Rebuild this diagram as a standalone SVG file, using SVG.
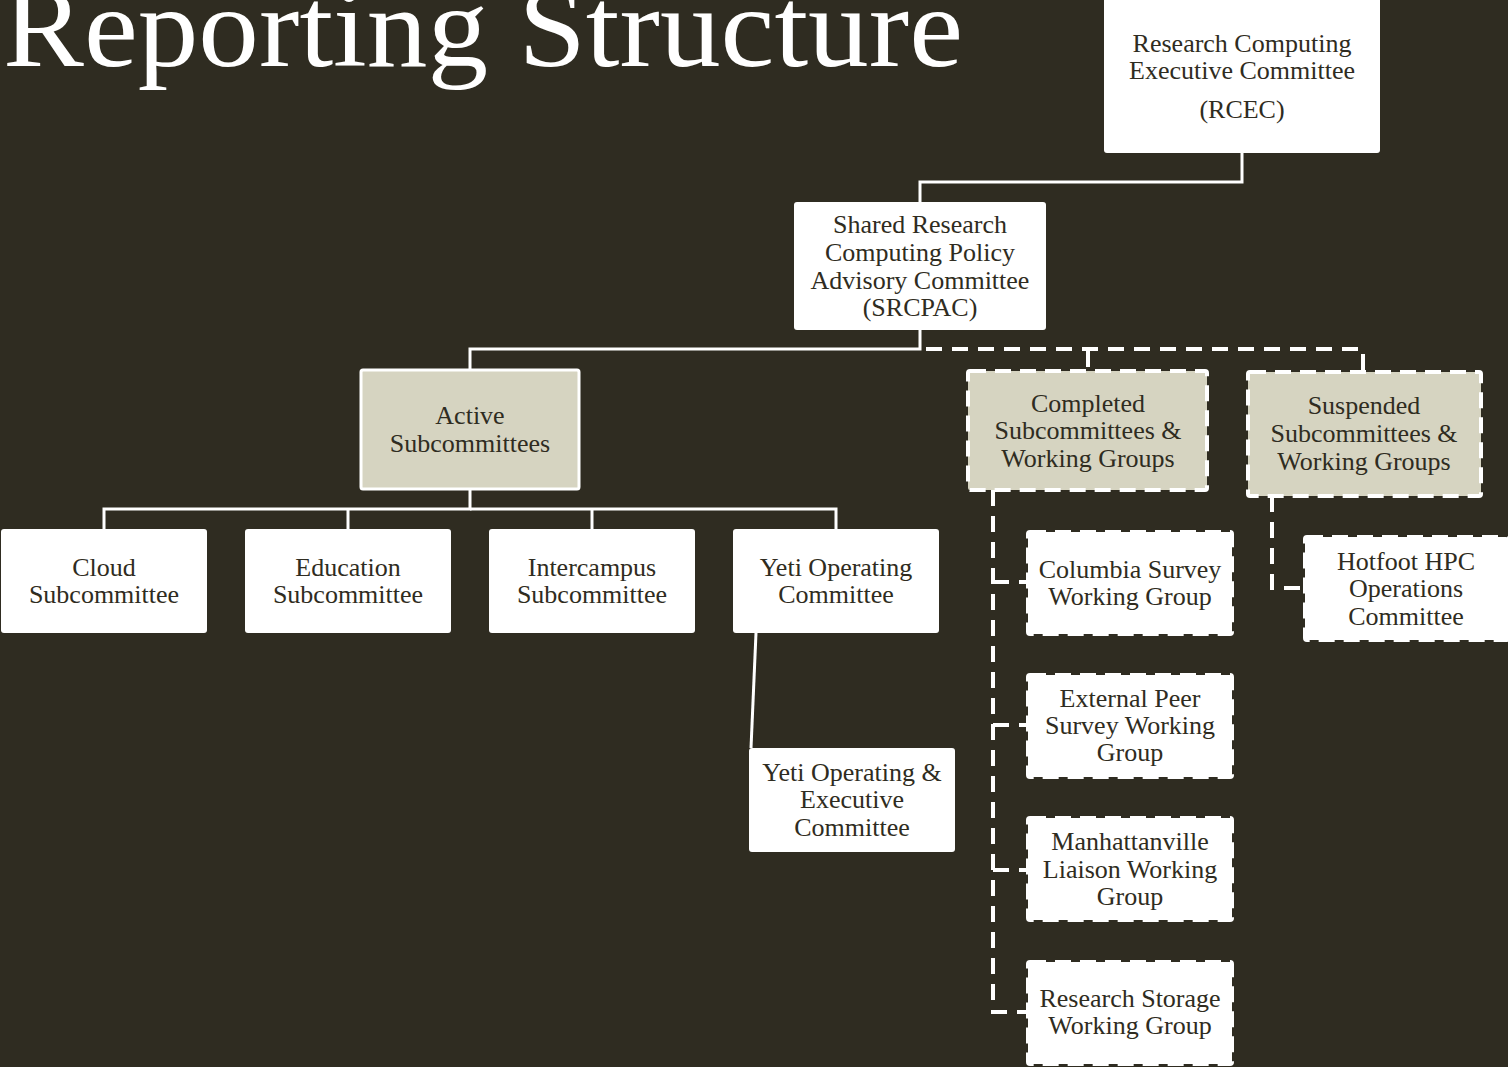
<svg xmlns="http://www.w3.org/2000/svg" width="1508" height="1067" viewBox="0 0 1508 1067">
<style>
.bg{fill:#2f2c21}
.box{fill:#ffffff;stroke:none}
.shade{fill:#d6d4c1;stroke:#ffffff;stroke-width:3}
.shadeD{fill:#d6d4c1;stroke:#ffffff;stroke-width:4;stroke-dasharray:16 9}
.boxD{fill:#ffffff;stroke:#ffffff;stroke-width:4;stroke-dasharray:16 9}
.t{font-family:"Liberation Serif","Times New Roman",serif;font-size:26px;fill:#2f2c21;text-anchor:middle}
.title{font-family:"Liberation Serif","Times New Roman",serif;font-size:114px;fill:#ffffff}
.solid{fill:none;stroke:#ffffff;stroke-width:3}
.dash{fill:none;stroke:#ffffff;stroke-width:4;stroke-dasharray:16 10}
</style>
<rect class="bg" x="0" y="0" width="1508" height="1067"/>
<text class="title" x="3" y="66" textLength="960" lengthAdjust="spacingAndGlyphs">Reporting Structure</text>

<g id="connectors">
<path class="solid" d="M1242,153 V182 H920 V202"/>
<path class="solid" d="M920,330 V349 H470 V370"/>
<path class="dash" d="M926,349 H1363 V372"/>
<path class="dash" d="M1088,351 V370"/>
<path class="solid" d="M470,489 V509 H104 V529"/>
<path class="solid" d="M348,509 V529"/>
<path class="solid" d="M470,509 H836 V529"/>
<path class="solid" d="M592,509 V529"/>
<path class="solid" d="M756,633 L751,748"/>
<path class="dash" d="M993,490 V1012 H1028"/>
<path class="dash" d="M993,582 H1028"/>
<path class="dash" d="M993,725 H1028"/>
<path class="dash" d="M993,870 H1028"/>
<path class="dash" d="M1272,496 V588 H1305"/>
</g>

<g id="rcec">
<rect class="box" x="1104" y="-4" width="276" height="157" rx="3"/>
<text class="t" x="1242" y="52">Research Computing</text>
<text class="t" x="1242" y="79">Executive Committee</text>
<text class="t" x="1242" y="118">(RCEC)</text>
</g>

<g id="srcpac">
<rect class="box" x="794" y="202" width="252" height="128" rx="3"/>
<text class="t" x="920" y="233">Shared Research</text>
<text class="t" x="920" y="261">Computing Policy</text>
<text class="t" x="920" y="289">Advisory Committee</text>
<text class="t" x="920" y="316">(SRCPAC)</text>
</g>

<g id="active">
<rect class="shade" x="361" y="370" width="218" height="119" rx="2"/>
<text class="t" x="470" y="424">Active</text>
<text class="t" x="470" y="452">Subcommittees</text>
</g>

<g id="completed">
<rect class="shadeD" x="968" y="371" width="239" height="119" rx="2"/>
<text class="t" x="1088" y="412">Completed</text>
<text class="t" x="1088" y="439">Subcommittees &amp;</text>
<text class="t" x="1088" y="467">Working Groups</text>
</g>

<g id="suspended">
<rect class="shadeD" x="1248" y="372" width="233" height="124" rx="2"/>
<text class="t" x="1364" y="414">Suspended</text>
<text class="t" x="1364" y="442">Subcommittees &amp;</text>
<text class="t" x="1364" y="470">Working Groups</text>
</g>

<g id="cloud">
<rect class="box" x="1" y="529" width="206" height="104" rx="3"/>
<text class="t" x="104" y="576">Cloud</text>
<text class="t" x="104" y="603">Subcommittee</text>
</g>

<g id="education">
<rect class="box" x="245" y="529" width="206" height="104" rx="3"/>
<text class="t" x="348" y="576">Education</text>
<text class="t" x="348" y="603">Subcommittee</text>
</g>

<g id="intercampus">
<rect class="box" x="489" y="529" width="206" height="104" rx="3"/>
<text class="t" x="592" y="576">Intercampus</text>
<text class="t" x="592" y="603">Subcommittee</text>
</g>

<g id="yeti">
<rect class="box" x="733" y="529" width="206" height="104" rx="3"/>
<text class="t" x="836" y="576">Yeti Operating</text>
<text class="t" x="836" y="603">Committee</text>
</g>

<g id="yeti-exec">
<rect class="box" x="749" y="748" width="206" height="104" rx="3"/>
<text class="t" x="852" y="781">Yeti Operating &amp;</text>
<text class="t" x="852" y="808">Executive</text>
<text class="t" x="852" y="836">Committee</text>
</g>

<g id="columbia">
<rect class="boxD" x="1028" y="532" width="204" height="102" rx="2"/>
<text class="t" x="1130" y="578">Columbia Survey</text>
<text class="t" x="1130" y="605">Working Group</text>
</g>

<g id="external">
<rect class="boxD" x="1028" y="675" width="204" height="102" rx="2"/>
<text class="t" x="1130" y="707">External Peer</text>
<text class="t" x="1130" y="734">Survey Working</text>
<text class="t" x="1130" y="761">Group</text>
</g>

<g id="manhattanville">
<rect class="boxD" x="1028" y="818" width="204" height="102" rx="2"/>
<text class="t" x="1130" y="850">Manhattanville</text>
<text class="t" x="1130" y="878">Liaison Working</text>
<text class="t" x="1130" y="905">Group</text>
</g>

<g id="storage">
<rect class="boxD" x="1028" y="962" width="204" height="102" rx="2"/>
<text class="t" x="1130" y="1007">Research Storage</text>
<text class="t" x="1130" y="1034">Working Group</text>
</g>

<g id="hotfoot">
<rect class="boxD" x="1305" y="537" width="203" height="103" rx="2"/>
<text class="t" x="1406" y="570">Hotfoot HPC</text>
<text class="t" x="1406" y="597">Operations</text>
<text class="t" x="1406" y="625">Committee</text>
</g>
</svg>
